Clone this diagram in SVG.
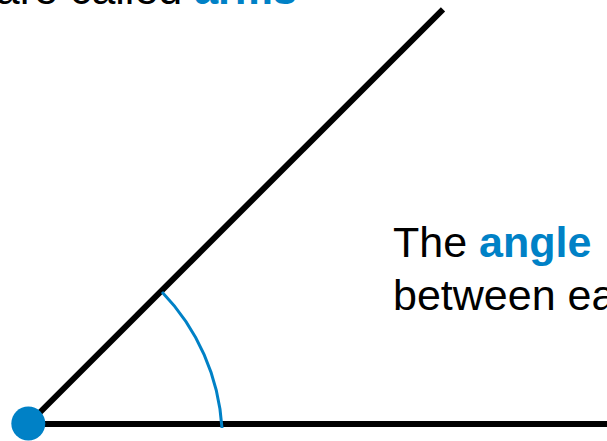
<svg xmlns="http://www.w3.org/2000/svg" width="607" height="441" viewBox="0 0 607 441">
  <style>
    .t { font-family: "Liberation Sans", Arial, Helvetica, sans-serif; font-size: 43px; fill: #000; }
    .b { font-weight: bold; fill: #0081c6; }
    .arm { stroke: #000; stroke-width: 6; fill: none; }
    .arc { stroke: #0081c6; stroke-width: 3; fill: none; }
  </style>
  <g id="connectors">
    <line id="arm-horizontal" class="arm" x1="28.3" y1="424" x2="610" y2="424"/>
    <line id="arm-diagonal" class="arm" x1="28.3" y1="424" x2="443" y2="9.3"/>
    <path id="angle-arc" class="arc" d="M 222 428 A 215 215 0 0 0 162 292"/>
  </g>
  <g id="vertex">
    <circle cx="28.3" cy="423.5" r="17" fill="#0081c6"/>
  </g>
  <g id="label-arms">
    <text class="t" x="297" y="4" text-anchor="end">are called <tspan class="b">arms</tspan></text>
  </g>
  <g id="label-angle">
    <text class="t" x="393" y="257">The <tspan class="b">angle</tspan></text>
    <text class="t" x="393" y="310">between ea</text>
  </g>
</svg>
